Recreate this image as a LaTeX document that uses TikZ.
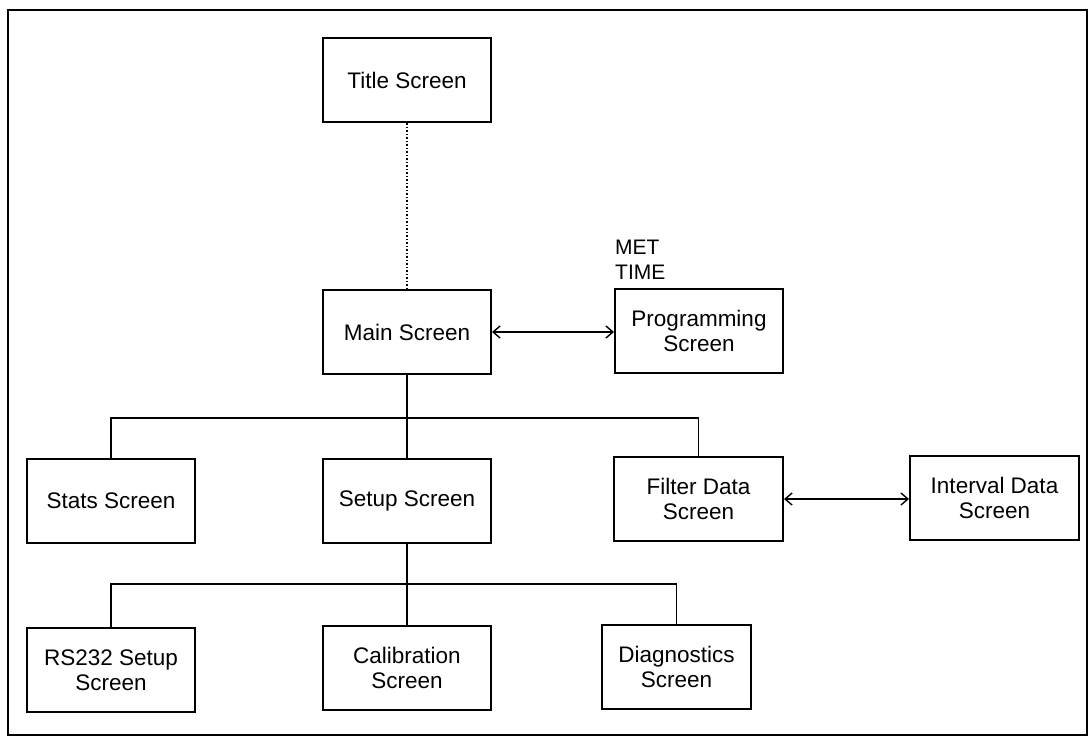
\documentclass[tikz,border=0pt]{standalone}
\usepackage{fontspec}
\setmainfont{Liberation Sans}
\usetikzlibrary{arrows.meta}
\begin{document}
\begin{tikzpicture}[x=1pt,y=-1pt,
  box/.style={draw,line width=2pt,minimum width=168pt,minimum height=84pt,
    inner sep=0pt,align=center,font=\fontsize{22.5}{25}\selectfont},
  conn/.style={line width=1.6pt},
  biarrow/.style={line width=1.4pt,{Straight Barb[length=7pt,width=12pt]}-{Straight Barb[length=7pt,width=12pt]}}]
\useasboundingbox (0,0) rectangle (1091,737);
\draw[line width=2.5pt] (8,10) rectangle (1087,735);
\node[box] (title) at (407,80) {Title Screen};
\node[box] (main) at (407,332) {Main Screen};
\node[box] (prog) at (699,331) {Programming\\Screen};
\node[anchor=north west,align=left,inner sep=0pt,font=\fontsize{21}{25}\selectfont] (met) at (615,240) {MET\\TIME};
\node[box] (stats) at (111,501) {Stats Screen};
\node[box] (setup) at (407,501) {Setup Screen};
\node[box,minimum width=169pt] (filter) at (698.5,499) {Filter Data\\Screen};
\node[box,minimum width=169pt] (interval) at (994.5,498) {Interval Data\\Screen};
\node[box] (rs) at (111,670) {RS232 Setup\\Screen};
\node[box] (cal) at (407,668) {Calibration\\Screen};
\node[box,minimum width=149pt] (diag) at (676.5,667) {Diagnostics\\Screen};
\coordinate (b1) at (407,418);
\coordinate (b2) at (407,584);
% connectors
\draw[line width=1.5pt,dotted] (title.south) -- (main.north);
\draw[biarrow] (main.east) -- (prog.west |- main.east);
\draw[biarrow] (filter.east) -- (interval.west |- filter.east);
\draw[conn] (main.south) -- (b1);
\draw[conn] (b1) -- (setup.north);
\draw[conn] (stats.north) |- (b1);
\draw[conn] (filter.north) |- (b1);
\draw[conn] (setup.south) -- (b2);
\draw[conn] (b2) -- (cal.north);
\draw[conn] (rs.north) |- (b2);
\draw[conn] (diag.north) |- (b2);
\end{tikzpicture}
\end{document}
